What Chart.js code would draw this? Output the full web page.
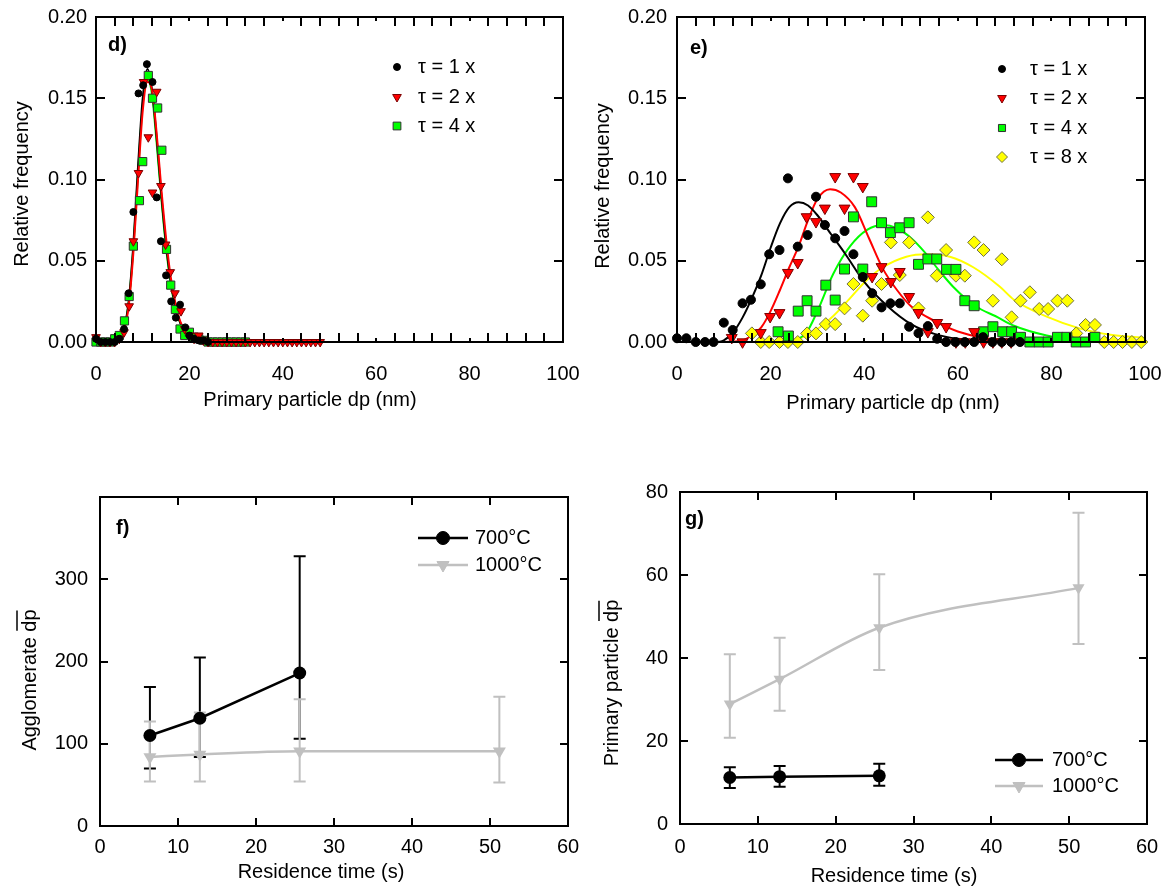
<!DOCTYPE html>
<html lang="en">
<head>
<meta charset="UTF-8">
<title>Primary particle and agglomerate size</title>
<script src="https://cdn.jsdelivr.net/npm/chart.js"></script>
<style>
  body { margin: 0; background: #fff; width: 1162px; height: 892px; position: relative; overflow: hidden; }
  canvas { position: absolute; }
  #chartD { left: 0; top: 0; }
  #chartE { left: 581px; top: 0; }
  #chartF { left: 0; top: 440px; }
  #chartG { left: 581px; top: 440px; }
</style>
</head>
<body>
<canvas id="chartD" width="581" height="420"></canvas>
<canvas id="chartE" width="581" height="420"></canvas>
<canvas id="chartF" width="581" height="452"></canvas>
<canvas id="chartG" width="581" height="452"></canvas>

<script>
// ---- panel d) size distributions, 700 C ----
const dTau1X = [0,1,2,3,4,5,6,7,8,9.1,10.1,10.9,12.1,13.0,13.9,15.0,16.1,17.1,18.0,19.1,20.0,21.0,22.0,23.0,24.0];
const dTau1Y = [0.002,0,0,0,0,0.002,0.008,0.03,0.080,0.153,0.158,0.171,0.160,0.089,0.062,0.041,0.025,0.015,0.023,0.009,0.004,0.002,0.001,0.001,0];
const dTau2X = [0,1,2,3,4,5,6,7.1,8.0,9.1,10.2,11.2,12.1,13.0,13.9,14.9,15.9,16.9,18.2,19.0,20.0,21.0,22.0,23.0,
                24,25,26,27,28,29,30,31,32,33,34,35,36,37,38,39,40,41,42,43,44,45,46,47,48];
const dTau2Y = [0.003,0,0,0,0,0.002,0.006,0.022,0.062,0.104,0.160,0.126,0.092,0.154,0.096,0.060,0.043,0.030,0.019,0.008,0.004,0.002,0.004,0.001,
                0,0,0,0,0,0,0,0,0,0,0,0,0,0,0,0,0,0,0,0,0,0,0,0,0];
const dTau4X = [0,1,2,3,4,5,6.1,7.1,8.0,9.3,10.0,11.2,12.1,13.2,14.1,15.1,16.0,17.0,18.0,19.0,20.0,21.0,22.0,23.0,24,25,26,27,28,29,30,31,32];
const dTau4Y = [0,0,0,0,0.002,0.004,0.013,0.028,0.059,0.087,0.111,0.164,0.150,0.144,0.118,0.057,0.035,0.020,0.008,0.004,0.006,0.003,0.002,0.001,0,0,0,0,0,0,0,0,0];
// fitted curves
const dFitX  = [0,4,5,6,7,8,9,10,11,12,13,14,15,16,17,18,19,20,22,25,30,40,50,60];
const dFit1Y = [0,0,0.002,0.008,0.025,0.06,0.108,0.150,0.168,0.155,0.125,0.090,0.060,0.037,0.022,0.012,0.006,0.003,0.001,0,0,0,0,0];
const dFit2Y = [0,0,0.002,0.007,0.022,0.055,0.100,0.142,0.160,0.155,0.128,0.094,0.064,0.040,0.024,0.013,0.007,0.004,0.001,0,0,0,0];
const dFit4Y = [0,0,0.002,0.008,0.024,0.058,0.104,0.146,0.162,0.152,0.122,0.088,0.058,0.036,0.021,0.012,0.006,0.003,0.001,0,0,0,0,0];

// ---- panel e) size distributions, 1000 C ----
const eTau1X = [0,2,4,6,7.8,10,11.9,14,15.8,17.9,19.7,21.9,23.7,25.8,27.9,29.7,31.6,33.8,35.8,37.7,39.7,41.7,43.7,45.6,47.6,49.6,51.6,53.6,55.6,57.5,59.5,61.5,63.5,65.4,67.4,69.4,71.4,73.3];
const eTau1Y = [0.0023,0.0023,0,0,0,0.0119,0.0074,0.0238,0.026,0.0355,0.054,0.0566,0.1007,0.0587,0.0658,0.0894,0.072,0.0638,0.0683,0.054,0.040,0.030,0.0213,0.0238,0.0238,0.0094,0.0054,0.0098,0.002,0,0,0,0,0.003,0,0,0,0];
const eTau2X = [11.7,14,17.9,19.9,21.9,23.7,25.8,27.7,29.7,31.6,33.8,35.8,37.7,39.7,41.7,43.7,45.7,47.6,49.6,51.6,53.6,55.6,57.5,59.6,61.6,63.5,65.5,67.5,69.4,71.4];
const eTau2Y = [0.0027,0,0.0057,0.0156,0.018,0.0427,0.0488,0.077,0.074,0.0823,0.1017,0.0823,0.1017,0.0956,0.0402,0.0463,0.0371,0.0433,0.0279,0.018,0.0063,0.0119,0.0094,0,0,0.0063,0,0,0,0];
const eTau4X = [21.6,23.8,25.9,27.8,29.7,31.8,33.8,35.8,37.7,39.7,41.6,43.7,45.6,47.6,49.6,51.6,53.6,55.5,57.6,59.6,61.5,63.5,65.5,67.5,69.6,71.5,73.4,75.4,77.4,79.3,81.3,83.3,85.3,87.3,89.3];
const eTau4Y = [0.0063,0.0037,0.019,0.0254,0.019,0.035,0.0258,0.0449,0.077,0.0449,0.0863,0.0734,0.0673,0.0703,0.0734,0.0478,0.0511,0.0511,0.0447,0.0447,0.0254,0.0223,0.0063,0.0094,0.0063,0.0063,0.0029,0,0,0,0.0029,0.0029,0,0,0.0029];
const eTau8X = [16,17.9,19.7,21.9,23.7,25.8,27.8,29.7,31.8,33.8,35.8,37.7,39.7,41.7,43.7,45.7,47.6,49.6,51.6,53.6,55.5,57.5,59.6,61.5,63.5,65.5,67.5,69.4,71.5,73.4,75.4,77.4,79.3,81.3,83.4,85.3,87.3,89.3,91.3,93.3,95.2,97.2,99.2];
const eTau8Y = [0.0053,0,0,0,0,0,0.0053,0.0053,0.011,0.011,0.0207,0.0357,0.0162,0.0254,0.0357,0.0613,0.0412,0.0613,0.0207,0.0767,0.0408,0.0566,0.0408,0.0408,0.0613,0.0566,0.0254,0.0509,0.0152,0.0254,0.0306,0.0203,0.0203,0.0254,0.0254,0.0053,0.0105,0.0105,0,0,0,0,0];
// fitted curves
const eFit1X = [0,8,10,12,14,16,18,20,22,24,26,28,30,33,36,40,45,50,55,60,70,80];
const eFit1Y = [0,0,0.001,0.006,0.015,0.027,0.041,0.058,0.073,0.083,0.086,0.084,0.078,0.066,0.054,0.037,0.022,0.011,0.005,0.002,0.0005,0];
const eFit2X = [10,14,16,18,20,22,24,26,28,30,32.7,35,38,41,44,47,50,55,60,66,75,85];
const eFit2Y = [0,0.001,0.004,0.009,0.019,0.032,0.046,0.059,0.075,0.088,0.094,0.092,0.083,0.064,0.045,0.032,0.022,0.013,0.0065,0.0023,0.0005,0];
const eFit4X = [22,25,27.7,30,33.4,37,40.6,44,47,50,53,56,59,62,65,68,72,79,86,95];
const eFit4Y = [0,0.001,0.006,0.019,0.042,0.059,0.069,0.072,0.070,0.064,0.055,0.044,0.034,0.026,0.020,0.016,0.010,0.004,0.001,0];
const eFit8X = [0,20,26,30,33.4,37,40.5,44,49,53.3,58.3,63.3,69,72,79,86,93,100];
const eFit8Y = [0,0,0.002,0.008,0.016,0.027,0.038,0.046,0.0525,0.054,0.0525,0.046,0.034,0.026,0.0156,0.0084,0.0043,0.0025];

// ---- panels f) and g) mean size vs residence time ----
const resTime = [6.4, 12.8, 25.6, 51.2];
const fAgg700   = [110, 131, 186];
const fAgg700Lo = [70, 84, 106];
const fAgg700Hi = [169, 205, 328];
const fAgg1000   = [84, 87, 91, 91];
const fAgg1000Lo = [54, 54, 54, 53];
const fAgg1000Hi = [127, 138, 154, 157];
const gPri700   = [11.2, 11.4, 11.6];
const gPri700Lo = [8.7, 9.0, 9.2];
const gPri700Hi = [13.7, 14.0, 14.5];
const gPri1000   = [28.9, 34.9, 47.3, 56.9];
const gPri1000Lo = [20.8, 27.3, 37.1, 43.4];
const gPri1000Hi = [40.9, 44.9, 60.2, 75.0];

const FONT = "'Liberation Sans', Arial, sans-serif";
const RED = '#ff0000', GREEN = '#00ff00', YELLOW = '#ffff00', GREY = '#c0c0c0';

function pts(xs, ys) { return xs.map((x, i) => ({ x: x, y: ys[i] })); }

function marker(ctx, style, r, x, y) {
  ctx.beginPath();
  if (style === 'circle') {
    ctx.arc(x, y, r, 0, Math.PI * 2);
  } else if (style === 'triangle') { // pointing down
    ctx.moveTo(x, y + r);
    ctx.lineTo(x - r * 0.866, y - r / 2);
    ctx.lineTo(x + r * 0.866, y - r / 2);
    ctx.closePath();
  } else if (style === 'rect') {
    const h = r * Math.SQRT1_2;
    ctx.rect(x - h, y - h, 2 * h, 2 * h);
  } else if (style === 'rectRot') {
    ctx.moveTo(x, y - r); ctx.lineTo(x + r, y); ctx.lineTo(x, y + r); ctx.lineTo(x - r, y);
    ctx.closePath();
  }
  ctx.fill();
  ctx.stroke();
}

// box around the plot with inward ticks (nx / ny intervals across the box)
function frameTicks(o) {
  return {
    id: 'frameTicks',
    afterDraw(chart) {
      const ctx = chart.ctx, a = chart.chartArea;
      const w = a.right - a.left, h = a.bottom - a.top;
      ctx.save();
      ctx.strokeStyle = '#000';
      ctx.lineWidth = 2;
      ctx.strokeRect(a.left, a.top, w, h);
      ctx.beginPath();
      for (let k = 1; k < o.nx; k++) {
        const px = Math.round(a.left + k * w / o.nx);
        const len = (k % o.xEvery === 0) ? o.majorLen : o.len;
        ctx.moveTo(px, a.bottom); ctx.lineTo(px, a.bottom - len);
        ctx.moveTo(px, a.top); ctx.lineTo(px, a.top + len);
      }
      for (let k = 1; k < o.ny; k++) {
        const py = Math.round(a.bottom - k * h / o.ny);
        ctx.moveTo(a.left, py); ctx.lineTo(a.left + o.len, py);
        ctx.moveTo(a.right, py); ctx.lineTo(a.right - o.len, py);
      }
      ctx.stroke();
      ctx.restore();
    }
  };
}

// vertical error bars from errLo / errHi arrays
const errorBars = {
  id: 'errorBars',
  beforeDatasetsDraw(chart) {
    const ctx = chart.ctx, ys = chart.scales.y;
    chart.data.datasets.forEach((ds, i) => {
      if (!ds.errLo) return;
      const meta = chart.getDatasetMeta(i);
      ctx.save();
      ctx.strokeStyle = ds.borderColor;
      ctx.lineWidth = 2;
      meta.data.forEach((pt, j) => {
        const top = ys.getPixelForValue(ds.errHi[j]);
        const bot = ys.getPixelForValue(ds.errLo[j]);
        ctx.beginPath();
        ctx.moveTo(pt.x, top); ctx.lineTo(pt.x, bot);
        ctx.moveTo(pt.x - 6, top); ctx.lineTo(pt.x + 6, top);
        ctx.moveTo(pt.x - 6, bot); ctx.lineTo(pt.x + 6, bot);
        ctx.stroke();
      });
      ctx.restore();
    });
  }
};

// legend, panel letter and axis titles
function panelText(o) {
  return {
    id: 'panelText',
    afterDraw(chart) {
      const ctx = chart.ctx;
      ctx.save();
      ctx.textBaseline = 'middle';
      ctx.fillStyle = '#000';
      ctx.font = 'bold 20px ' + FONT;
      ctx.textAlign = 'left';
      ctx.fillText(o.label.text, o.label.x, o.label.y);

      ctx.font = '20px ' + FONT;
      o.legend.forEach(it => {
        const ds = chart.data.datasets[it.ds];
        if (it.line) {
          ctx.strokeStyle = ds.borderColor;
          ctx.lineWidth = ds.borderWidth;
          ctx.beginPath();
          ctx.moveTo(it.x - it.line, it.y); ctx.lineTo(it.x + it.line, it.y);
          ctx.stroke();
        }
        ctx.fillStyle = ds.pointBackgroundColor;
        ctx.strokeStyle = ds.pointBorderColor;
        ctx.lineWidth = 1;
        marker(ctx, ds.pointStyle, it.r, it.x, it.y);
        ctx.fillStyle = '#000';
        ctx.fillText(ds.label, o.legendTextX, it.y);
      });

      ctx.textAlign = 'center';
      ctx.fillText(o.xTitle.text, o.xTitle.x, o.xTitle.y);

      ctx.translate(o.yTitle.x, o.yTitle.y);
      ctx.rotate(-Math.PI / 2);
      ctx.fillText(o.yTitle.text, 0, 0);
      if (o.yTitle.over) {
        const t = o.yTitle.text;
        const w = ctx.measureText(t).width;
        const pre = ctx.measureText(t.slice(0, t.length - o.yTitle.over.length)).width;
        const ow = ctx.measureText(o.yTitle.over).width;
        ctx.strokeStyle = '#000';
        ctx.lineWidth = 1.5;
        ctx.beginPath();
        ctx.moveTo(-w / 2 + pre + 1, -13);
        ctx.lineTo(-w / 2 + pre + ow - 1, -13);
        ctx.stroke();
      }
      ctx.restore();
    }
  };
}

function axis(min, max, step, pad, size, isX, fmt) {
  const a = {
    type: 'linear', min: min, max: max,
    ticks: { stepSize: step, color: '#000', padding: pad, font: { family: FONT, size: 20 }, maxRotation: 0 },
    grid: { display: false, drawTicks: false },
    border: { display: false },
    afterFit: s => {
      if (isX) s.height = size; else s.width = size;
      s.paddingLeft = 0; s.paddingRight = 0; s.paddingTop = 0; s.paddingBottom = 0;
    }
  };
  if (fmt) a.ticks.callback = fmt;
  return a;
}

function scatterSet(label, xs, ys, style, r, bg, bc) {
  return { label: label, data: pts(xs, ys), showLine: false, pointStyle: style, pointRotation: style === 'triangle' ? 180 : 0,
           pointRadius: r, pointBackgroundColor: bg, pointBorderColor: bc, pointBorderWidth: 1, clip: false };
}
function curveSet(xs, ys, color) {
  return { label: '', data: pts(xs, ys), showLine: true, pointRadius: 0, borderColor: color, borderWidth: 2,
           cubicInterpolationMode: 'monotone', fill: false, clip: false };
}
function errSet(label, xs, ys, lo, hi, color, style, r, smooth) {
  return { label: label, data: pts(xs, ys), errLo: lo, errHi: hi, showLine: true, borderColor: color, borderWidth: 2.5,
           pointStyle: style, pointRotation: style === 'triangle' ? 180 : 0, pointRadius: r,
           pointBackgroundColor: color, pointBorderColor: color, pointBorderWidth: 0,
           cubicInterpolationMode: smooth ? 'monotone' : 'default', tension: 0, clip: false };
}

function makeChart(id, datasets, o) {
  return new Chart(document.getElementById(id), {
    type: 'scatter',
    data: { datasets: datasets },
    options: {
      responsive: false, animation: false, events: [],
      layout: { padding: o.pad },
      plugins: { legend: { display: false }, tooltip: { enabled: false } },
      scales: { x: o.x, y: o.y }
    },
    plugins: [frameTicks(o.frame), errorBars, panelText(o.text)]
  });
}

const fmt2 = v => v.toFixed(2);

// d)
makeChart('chartD', [
  scatterSet('τ = 1 x', dTau1X, dTau1Y, 'circle', 3.5, '#000', '#000'),
  scatterSet('τ = 2 x', dTau2X, dTau2Y, 'triangle', 5, RED, '#7a0000'),
  scatterSet('τ = 4 x', dTau4X, dTau4Y, 'rect', 5.8, GREEN, '#303030'),
  curveSet(dFitX.slice(0, dFit2Y.length), dFit2Y, RED),
  curveSet(dFitX, dFit1Y, '#000'),
  curveSet(dFitX, dFit4Y, GREEN)
], {
  pad: { left: 0, top: 17, right: 18, bottom: 0 },
  x: axis(0, 100, 20, 20, 78, true),
  y: axis(0, 0.2, 0.05, 9, 96, false, fmt2),
  frame: { nx: 25, xEvery: 5, ny: 4, len: 9, majorLen: 4 },
  text: {
    label: { text: 'd)', x: 108, y: 45 },
    legend: [{ ds: 0, x: 397, y: 67, r: 3.5 }, { ds: 1, x: 397, y: 97, r: 5 }, { ds: 2, x: 397, y: 126, r: 5.5 }],
    legendTextX: 418,
    xTitle: { text: 'Primary particle dp (nm)', x: 310, y: 400 },
    yTitle: { text: 'Relative frequency', x: 22, y: 184 }
  }
});

// e)
makeChart('chartE', [
  scatterSet('τ = 1 x', eTau1X, eTau1Y, 'circle', 4.5, '#000', '#000'),
  scatterSet('τ = 2 x', eTau2X, eTau2Y, 'triangle', 6.3, RED, '#7a0000'),
  scatterSet('τ = 4 x', eTau4X, eTau4Y, 'rect', 7, GREEN, '#303030'),
  scatterSet('τ = 8 x', eTau8X, eTau8Y, 'rectRot', 6.5, YELLOW, '#707040'),
  curveSet(eFit1X, eFit1Y, '#000'),
  curveSet(eFit2X, eFit2Y, RED),
  curveSet(eFit4X, eFit4Y, GREEN),
  curveSet(eFit8X, eFit8Y, YELLOW)
], {
  pad: { left: 0, top: 17, right: 17, bottom: 0 },
  x: axis(0, 100, 20, 20, 78, true),
  y: axis(0, 0.2, 0.05, 10, 96, false, fmt2),
  frame: { nx: 25, xEvery: 5, ny: 4, len: 9, majorLen: 4 },
  text: {
    label: { text: 'e)', x: 109, y: 48 },
    legend: [{ ds: 0, x: 421, y: 69, r: 3.5 }, { ds: 1, x: 421, y: 98, r: 5 }, { ds: 2, x: 421, y: 128, r: 5 }, { ds: 3, x: 421, y: 157, r: 5.5 }],
    legendTextX: 449,
    xTitle: { text: 'Primary particle dp (nm)', x: 312, y: 403 },
    yTitle: { text: 'Relative frequency', x: 22, y: 186 }
  }
});

// f)
makeChart('chartF', [
  errSet('700°C', resTime.slice(0, 3), fAgg700, fAgg700Lo, fAgg700Hi, '#000', 'circle', 6.5, false),
  errSet('1000°C', resTime, fAgg1000, fAgg1000Lo, fAgg1000Hi, GREY, 'triangle', 7.5, true)
], {
  pad: { left: 0, top: 57, right: 13, bottom: 0 },
  x: axis(0, 60, 10, 9, 66, true),
  y: axis(0, 400, 100, 12, 100, false, v => (v >= 400 ? '' : v)),
  frame: { nx: 6, xEvery: 1, ny: 4, len: 8, majorLen: 8 },
  text: {
    label: { text: 'f)', x: 116, y: 88 },
    legend: [{ ds: 0, x: 443, y: 98, r: 6.5, line: 25 }, { ds: 1, x: 443, y: 125, r: 7, line: 25 }],
    legendTextX: 475,
    xTitle: { text: 'Residence time (s)', x: 321, y: 432 },
    yTitle: { text: 'Agglomerate dp', x: 30, y: 240, over: 'dp' }
  }
});

// g)
makeChart('chartG', [
  errSet('700°C', resTime.slice(0, 3), gPri700, gPri700Lo, gPri700Hi, '#000', 'circle', 6.5, false),
  errSet('1000°C', resTime, gPri1000, gPri1000Lo, gPri1000Hi, GREY, 'triangle', 7, true)
], {
  pad: { left: 0, top: 52, right: 15, bottom: 0 },
  x: axis(0, 60, 10, 11, 68, true),
  y: axis(0, 80, 20, 12, 99, false),
  frame: { nx: 6, xEvery: 1, ny: 4, len: 8, majorLen: 8 },
  text: {
    label: { text: 'g)', x: 104, y: 79 },
    legend: [{ ds: 0, x: 438, y: 320, r: 6.5, line: 24 }, { ds: 1, x: 438, y: 346, r: 7, line: 24 }],
    legendTextX: 471,
    xTitle: { text: 'Residence time (s)', x: 313, y: 436 },
    yTitle: { text: 'Primary particle dp', x: 31, y: 243, over: 'dp' }
  }
});
</script>
</body>
</html>
